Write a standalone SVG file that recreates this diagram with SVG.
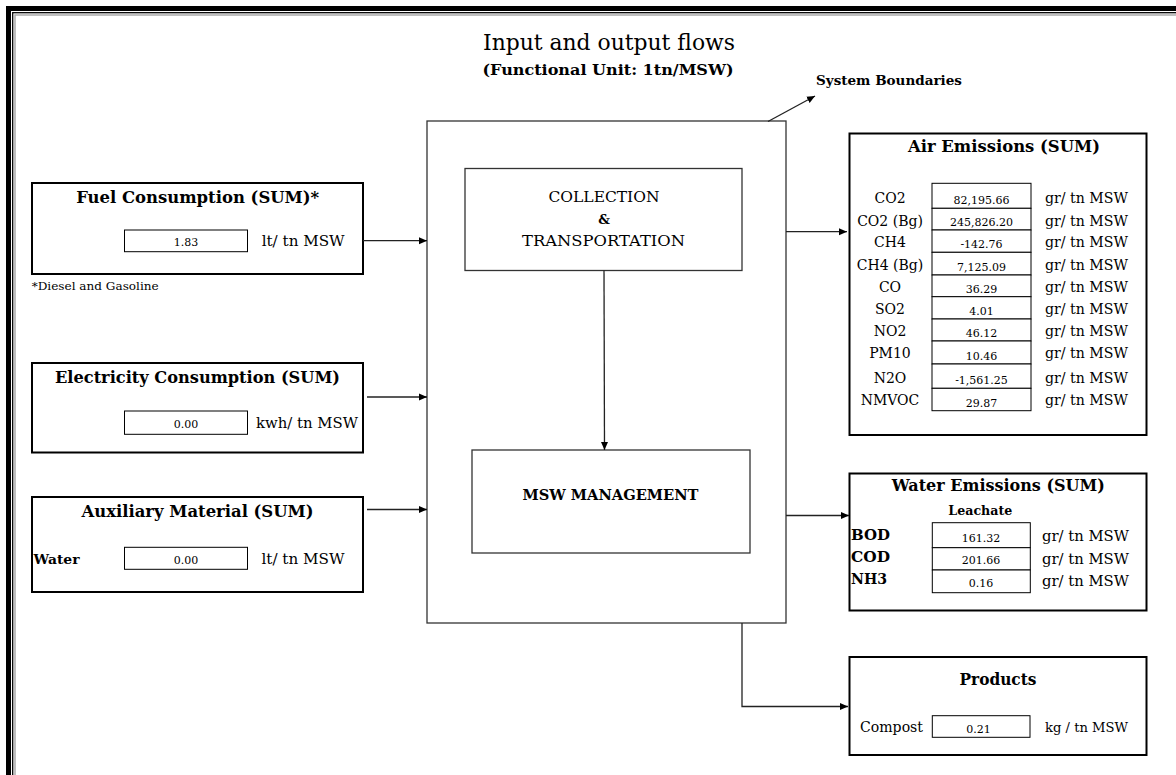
<svg xmlns="http://www.w3.org/2000/svg" width="1176" height="775" viewBox="0 0 1176 775">
<style>
text{font-family:"DejaVu Serif","Liberation Serif",serif;fill:#000}
.t{font-size:22px}
.st{font-size:15px;font-weight:bold}
.h{font-size:16px;font-weight:bold}
.b{font-size:13px;font-weight:bold}
.r{font-size:14px}
.v{font-size:11px}
.s{font-size:11px}
.node{fill:#fff;stroke:#000;stroke-width:2}
.proc{fill:#fff;stroke:#333;stroke-width:1.3}
.cell{fill:#fff;stroke:#000;stroke-width:1}
.conn{fill:none;stroke:#222;stroke-width:1.3}
.m{text-anchor:middle}
</style>
<defs>
<marker id="ah" markerUnits="userSpaceOnUse" markerWidth="9" markerHeight="8" refX="8" refY="4" orient="auto">
<path d="M0,0.5 L8,4 L0,7.5 Z" fill="#000"/>
</marker>
</defs>
<rect width="1176" height="775" fill="#fff"/>
<g id="frame">
<rect x="8.5" y="8.5" width="1200" height="800" fill="none" stroke="#000" stroke-width="5"/>
<rect x="12.7" y="12.7" width="1200" height="800" fill="none" stroke="#000" stroke-width="1.3"/>
<rect x="15" y="15" width="1200" height="800" fill="none" stroke="#aaa" stroke-width="1.5"/>
</g>
<g id="title">
<text class="t m" x="609" y="50" textLength="252" lengthAdjust="spacingAndGlyphs">Input and output flows</text>
<text class="st m" x="608" y="75" textLength="251" lengthAdjust="spacingAndGlyphs">(Functional Unit: 1tn/MSW)</text>
</g>
<g id="system-boundary">
<rect class="proc" x="427" y="121" width="359" height="502"/>
<text class="b" x="816" y="85" textLength="146" lengthAdjust="spacingAndGlyphs">System Boundaries</text>
</g>
<g id="collection">
<rect class="proc" x="465" y="168.5" width="277" height="102"/>
<text class="r m" x="604" y="202" textLength="111" lengthAdjust="spacingAndGlyphs" style="font-size:15px">COLLECTION</text>
<text class="b m" x="604" y="224">&amp;</text>
<text class="r m" x="603.5" y="246" textLength="163" lengthAdjust="spacingAndGlyphs" style="font-size:15px">TRANSPORTATION</text>
</g>
<g id="msw-management">
<rect class="proc" x="472" y="450" width="278" height="103"/>
<text class="st m" x="610.5" y="500" textLength="176" lengthAdjust="spacingAndGlyphs">MSW MANAGEMENT</text>
</g>
<g id="fuel">
<rect class="node" x="32" y="183" width="331" height="91"/>
<text class="h m" x="197.7" y="203" textLength="243" lengthAdjust="spacingAndGlyphs">Fuel Consumption (SUM)*</text>
<rect class="cell" x="124.5" y="230" width="123" height="21.7"/>
<text class="v m" x="186" y="246">1.83</text>
<text class="r" x="261.7" y="246" textLength="83" lengthAdjust="spacingAndGlyphs">lt/ tn MSW</text>
<text class="s" x="31.7" y="290" textLength="127" lengthAdjust="spacingAndGlyphs">*Diesel and Gasoline</text>
</g>
<g id="electricity">
<rect class="node" x="32" y="363" width="331" height="89.5"/>
<text class="h m" x="197.5" y="383" textLength="285" lengthAdjust="spacingAndGlyphs">Electricity Consumption (SUM)</text>
<rect class="cell" x="124.5" y="411" width="123" height="23.3"/>
<text class="v m" x="186" y="428.3">0.00</text>
<text class="r" x="256" y="428.3" textLength="102" lengthAdjust="spacingAndGlyphs">kwh/ tn MSW</text>
</g>
<g id="auxiliary">
<rect class="node" x="32" y="497" width="331" height="95"/>
<text class="h m" x="197.5" y="517" textLength="232" lengthAdjust="spacingAndGlyphs">Auxiliary Material (SUM)</text>
<text class="b" x="33.5" y="563.5" textLength="46" lengthAdjust="spacingAndGlyphs">Water</text>
<rect class="cell" x="124.5" y="547.3" width="123" height="22"/>
<text class="v m" x="186" y="563.5">0.00</text>
<text class="r" x="261.5" y="563.5" textLength="83" lengthAdjust="spacingAndGlyphs">lt/ tn MSW</text>
</g>
<g id="air-emissions">
<rect class="node" x="849.5" y="133.5" width="297" height="301.5"/>
<text class="h m" x="1004" y="152" textLength="192" lengthAdjust="spacingAndGlyphs">Air Emissions (SUM)</text>
<rect class="cell" x="932" y="183.3" width="99" height="25"/>
<rect class="cell" x="932" y="208.3" width="99" height="21.7"/>
<rect class="cell" x="932" y="230" width="99" height="22.3"/>
<rect class="cell" x="932" y="252.3" width="99" height="22.7"/>
<rect class="cell" x="932" y="275" width="99" height="21.7"/>
<rect class="cell" x="932" y="296.7" width="99" height="22.3"/>
<rect class="cell" x="932" y="319" width="99" height="22"/>
<rect class="cell" x="932" y="341" width="99" height="23"/>
<rect class="cell" x="932" y="364" width="99" height="24.3"/>
<rect class="cell" x="932" y="388.3" width="99" height="22.4"/>
<g class="r m">
<text x="890" y="203.3">CO2</text>
<text x="890" y="225.5">CO2 (Bg)</text>
<text x="890" y="247.3">CH4</text>
<text x="890" y="270">CH4 (Bg)</text>
<text x="890" y="291.7">CO</text>
<text x="890" y="314">SO2</text>
<text x="890" y="335.7">NO2</text>
<text x="890" y="357.5">PM10</text>
<text x="890" y="382.7">N2O</text>
<text x="890" y="405">NMVOC</text>
</g>
<g class="v m">
<text x="981.5" y="204.3">82,195.66</text>
<text x="981.5" y="226">245,826.20</text>
<text x="981.5" y="248.3">-142.76</text>
<text x="981.5" y="271">7,125.09</text>
<text x="981.5" y="292.7">36.29</text>
<text x="981.5" y="315">4.01</text>
<text x="981.5" y="337">46.12</text>
<text x="981.5" y="360">10.46</text>
<text x="981.5" y="384.3">-1,561.25</text>
<text x="981.5" y="406.7">29.87</text>
</g>
<g class="r">
<text x="1045" y="203.3" textLength="83" lengthAdjust="spacingAndGlyphs">gr/ tn MSW</text>
<text x="1045" y="225.5" textLength="83" lengthAdjust="spacingAndGlyphs">gr/ tn MSW</text>
<text x="1045" y="247.3" textLength="83" lengthAdjust="spacingAndGlyphs">gr/ tn MSW</text>
<text x="1045" y="270" textLength="83" lengthAdjust="spacingAndGlyphs">gr/ tn MSW</text>
<text x="1045" y="291.7" textLength="83" lengthAdjust="spacingAndGlyphs">gr/ tn MSW</text>
<text x="1045" y="314" textLength="83" lengthAdjust="spacingAndGlyphs">gr/ tn MSW</text>
<text x="1045" y="335.7" textLength="83" lengthAdjust="spacingAndGlyphs">gr/ tn MSW</text>
<text x="1045" y="357.5" textLength="83" lengthAdjust="spacingAndGlyphs">gr/ tn MSW</text>
<text x="1045" y="382.7" textLength="83" lengthAdjust="spacingAndGlyphs">gr/ tn MSW</text>
<text x="1045" y="405" textLength="83" lengthAdjust="spacingAndGlyphs">gr/ tn MSW</text>
</g>
</g>
<g id="water-emissions">
<rect class="node" x="849.5" y="473.5" width="297" height="137"/>
<text class="h m" x="998.3" y="491" textLength="213" lengthAdjust="spacingAndGlyphs">Water Emissions (SUM)</text>
<text class="b m" x="980.3" y="515" textLength="64" lengthAdjust="spacingAndGlyphs">Leachate</text>
<rect class="cell" x="932.3" y="522.7" width="98" height="25"/>
<rect class="cell" x="932.3" y="547.7" width="98" height="22.3"/>
<rect class="cell" x="932.3" y="570" width="98" height="22.7"/>
<g class="b" style="font-size:14px">
<text x="851" y="540" textLength="39" lengthAdjust="spacingAndGlyphs">BOD</text>
<text x="851" y="562.3" textLength="39" lengthAdjust="spacingAndGlyphs">COD</text>
<text x="851" y="583.5" textLength="36" lengthAdjust="spacingAndGlyphs">NH3</text>
</g>
<g class="v m">
<text x="981" y="541.7">161.32</text>
<text x="981" y="564">201.66</text>
<text x="981" y="586.7">0.16</text>
</g>
<g class="r">
<text x="1042" y="541" textLength="87" lengthAdjust="spacingAndGlyphs">gr/ tn MSW</text>
<text x="1042" y="563.5" textLength="87" lengthAdjust="spacingAndGlyphs">gr/ tn MSW</text>
<text x="1042" y="585.5" textLength="87" lengthAdjust="spacingAndGlyphs">gr/ tn MSW</text>
</g>
</g>
<g id="products">
<rect class="node" x="849.5" y="657" width="297" height="98"/>
<text class="h m" x="998" y="685" textLength="77" lengthAdjust="spacingAndGlyphs">Products</text>
<text class="r" x="860" y="731.7" textLength="63" lengthAdjust="spacingAndGlyphs">Compost</text>
<rect class="cell" x="932.3" y="715.7" width="97.7" height="21.6"/>
<text class="v m" x="978.5" y="732.7">0.21</text>
<text class="r" x="1045" y="731.7" textLength="83" lengthAdjust="spacingAndGlyphs" style="font-size:13px">kg / tn MSW</text>
</g>
<g id="connectors">
<line class="conn" x1="363" y1="240.7" x2="427" y2="240.7" marker-end="url(#ah)"/>
<line class="conn" x1="367" y1="397" x2="427" y2="397" marker-end="url(#ah)"/>
<line class="conn" x1="367" y1="509.5" x2="427" y2="509.5" marker-end="url(#ah)"/>
<line class="conn" x1="786" y1="231.7" x2="847" y2="231.7" marker-end="url(#ah)"/>
<line class="conn" x1="786" y1="515.5" x2="849" y2="515.5" marker-end="url(#ah)"/>
<polyline class="conn" points="742,623 742,706.5 848,706.5" marker-end="url(#ah)"/>
<line class="conn" x1="604" y1="270.5" x2="604.5" y2="450" marker-end="url(#ah)"/>
<line class="conn" x1="768" y1="121.5" x2="815" y2="96" marker-end="url(#ah)"/>
</g>
</svg>
